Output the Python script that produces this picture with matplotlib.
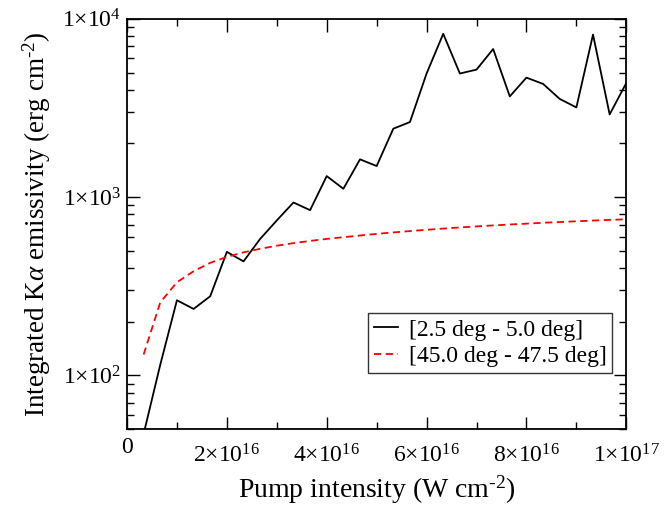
import matplotlib
matplotlib.use('Agg')
from matplotlib import pyplot as plt
from matplotlib.ticker import FixedLocator, FuncFormatter, LogLocator, NullFormatter
from matplotlib.transforms import ScaledTranslation

plt.rcParams['font.family'] = ['Liberation Serif', 'DejaVu Serif']
plt.rcParams['mathtext.fontset'] = 'custom'
plt.rcParams['mathtext.rm'] = 'Liberation Serif'
plt.rcParams['mathtext.it'] = 'Liberation Serif:italic'

# pump intensity grid (W cm^-2)
intensity = [i * 1e16 / 3 for i in range(1, 31)]

# [2.5 deg - 5.0 deg]
narrow = [47, 115, 264, 236, 278, 493, 436, 583, 740, 933,
          845, 1312, 1114, 1629, 1494, 2420, 2637, 4935, 8240, 4935,
          5190, 6770, 3673, 4680, 4315, 3555, 3184, 8160, 2910, 4365]

# [45.0 deg - 47.5 deg]
wide = [131, 257, 333, 384, 428, 462, 490, 513, 534, 552,
        568, 583, 596, 609, 622, 634, 645, 656, 666, 676,
        685, 694, 702, 710, 718, 725, 732, 739, 745, 751]

xticks = [0, 2e16, 4e16, 6e16, 8e16, 1e17]


def sci(v, pos=None):
    if v == 0:
        return '0'
    e = len(str(int(v))) - 1
    m = int(round(v / 10 ** e))
    return r'$\mathregular{%d{\times}10^{%d}}$' % (m, e)


fig = plt.figure(figsize=(6.72, 5.09), dpi=100)
ax = fig.add_axes([0.189, 0.157, 0.743, 0.806])

ax.plot(intensity, narrow, color='black', linewidth=1.3,
        label='[2.5 deg - 5.0 deg]')
ax.plot(intensity, wide, color='red', linewidth=1.3, dashes=(4, 2.5),
        label='[45.0 deg - 47.5 deg]')

ax.set_yscale('log')
ax.set_xlim(0, 1e17)
ax.set_ylim(50, 1e4)

ax.xaxis.set_major_locator(FixedLocator(xticks))
ax.xaxis.set_minor_locator(FixedLocator([1e16, 3e16, 5e16, 7e16, 9e16]))
ax.xaxis.set_major_formatter(FuncFormatter(sci))
ax.yaxis.set_major_locator(LogLocator(base=10))
ax.yaxis.set_minor_locator(LogLocator(base=10, subs=range(2, 10)))
ax.yaxis.set_major_formatter(FuncFormatter(sci))
ax.yaxis.set_minor_formatter(NullFormatter())

ax.tick_params(which='both', direction='in', top=True, right=True,
               labelsize=17, width=1)
ax.tick_params(which='major', length=9)
ax.tick_params(which='minor', length=5)
ax.tick_params(axis='x', pad=6)
ax.tick_params(axis='y', pad=4)
for s in ax.spines.values():
    s.set_linewidth(1.3)

# labels with exponents sit lower than the plain "0"
shift = ScaledTranslation(0, -5 / 72, fig.dpi_scale_trans)
for t in ax.xaxis.get_major_ticks()[1:]:
    t.label1.set_transform(t.label1.get_transform() + shift)

ax.set_xlabel(r'Pump intensity (W cm$^{\text{-2}}$)', fontsize=20, labelpad=4)
ax.set_ylabel(r'Integrated K$\alpha$ emissivity (erg cm$^{\text{-2}}$)',
              fontsize=19.5, labelpad=7)

leg = ax.legend(loc='lower right', bbox_to_anchor=(0.972, 0.137), fontsize=17,
                frameon=True, fancybox=False, handlelength=1.0,
                borderpad=0.25, labelspacing=0.2, handletextpad=0.45,
                borderaxespad=0)
leg.get_frame().set_edgecolor('black')
leg.get_frame().set_linewidth(1)

fig.savefig('out.png', dpi=100)
plt.close()
